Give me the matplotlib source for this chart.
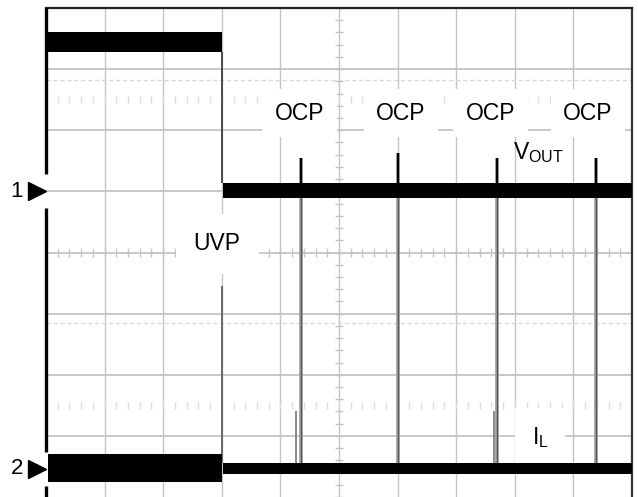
import matplotlib
matplotlib.use("Agg")
import matplotlib.pyplot as plt
import numpy as np

plt.rcParams['font.family'] = ['Liberation Sans', 'DejaVu Sans']
plt.rcParams['mathtext.fontset'] = 'custom'
plt.rcParams['mathtext.rm'] = 'Liberation Sans'

# scope screen, in divisions
n_xdiv = 10
n_ydiv = 8

# channel 1 (VOUT) trace band, before / after the UVP event
vout_x_before = [0.03, 3.0]
vout_lo_before = [7.28, 7.28]
vout_hi_before = [7.61, 7.61]
vout_x_after = [3.02, 10.0]
vout_lo_after = [4.89, 4.89]
vout_hi_after = [5.13, 5.13]

# channel 2 (IL) trace band
il_x_before = [0.03, 3.0]
il_lo_before = [0.24, 0.24]
il_hi_before = [0.70, 0.70]
il_x_after = [3.02, 10.0]
il_lo_after = [0.38, 0.38]
il_hi_after = [0.56, 0.56]

# spikes
uvp_x = 3.0
uvp_peak = 3.45
ocp_x = [4.35, 6.01, 7.70, 9.39]
ocp_peak = [5.55, 5.62, 5.55, 5.55]
pre_spike_x = [4.27, 7.65]
pre_spike_peak = [1.40, 1.40]

ch1_level = 5.0
ch2_level = 0.46

ocp_label_x = [4.33, 6.06, 7.59, 9.25]
ocp_label_y = 6.28

fig = plt.figure(figsize=(6.38, 4.97), dpi=100)
ax = fig.add_axes([46 / 638, 0.0, 586 / 638, 489 / 497])
ax.set_xlim(0, n_xdiv)
ax.set_ylim(0, n_ydiv)
ax.set_xticks([])
ax.set_yticks([])

# graticule
grid_c = '#c4c4c4'
for i in range(1, n_xdiv):
    ax.axvline(i, color=grid_c, lw=1, zorder=1)
for j in range(1, n_ydiv):
    ax.axhline(j, color=grid_c, lw=1.3, zorder=1)
ax.axhline(6.82, color='#d8d8d8', lw=1, ls=(0, (3, 2)), zorder=1)
ax.axhline(2.84, color='#d8d8d8', lw=1, ls=(0, (3, 2)), zorder=1)

# minor ticks on the centre lines
minor = np.arange(0, n_xdiv + 0.01, 0.2)
ax.vlines(minor, 4 - 0.07, 4 + 0.07, color=grid_c, lw=1, zorder=1)
ax.vlines(minor, 6.5 - 0.06, 6.5 + 0.06, color='#dddddd', lw=1, zorder=1)
ax.vlines(minor, 1.5 - 0.06, 1.5 + 0.06, color='#dddddd', lw=1, zorder=1)
minor_y = np.arange(0, n_ydiv + 0.01, 0.2)
ax.hlines(minor_y, 5 - 0.06, 5 + 0.06, color=grid_c, lw=1, zorder=1)

# channel 2 current spikes (grey)
ax.vlines(ocp_x, il_hi_after[0], ocp_peak, color='#999999', lw=2.6, zorder=4)
ax.vlines(ocp_x, il_hi_after[0], ocp_peak, color='#555555', lw=0.8, zorder=4)
ax.vlines(pre_spike_x, il_hi_after[0], pre_spike_peak, color='#777777', lw=1.2, zorder=4)
ax.vlines(uvp_x, il_hi_after[0], uvp_peak, color='#555555', lw=1.2, zorder=4)

# channel 1
ax.fill_between(vout_x_before, vout_lo_before, vout_hi_before, color='black', lw=0, zorder=5)
ax.fill_between(vout_x_after, vout_lo_after, vout_hi_after, color='black', lw=0, zorder=5)
ax.vlines(uvp_x, vout_hi_after[0], vout_lo_before[0], color='#333333', lw=1.2, zorder=5)
ax.vlines(ocp_x, vout_hi_after[0], ocp_peak, color='black', lw=1.6, zorder=5)

# channel 2
ax.fill_between(il_x_before, il_lo_before, il_hi_before, color='black', lw=0, zorder=5)
ax.fill_between(il_x_after, il_lo_after, il_hi_after, color='black', lw=0, zorder=5)

# labels
for x in ocp_label_x:
    ax.text(x, ocp_label_y, 'OCP', fontsize=16.5, ha='center', va='center', zorder=3,
            bbox=dict(facecolor='white', edgecolor='none', pad=9))
ax.text(2.92, 4.14, 'UVP', fontsize=16.5, ha='center', va='center', zorder=3,
        bbox=dict(facecolor='white', edgecolor='none', pad=13))
ax.text(8.40, 5.64, r'V$_{\mathrm{OUT}}$', fontsize=16.5, ha='center', va='center', zorder=3)
ax.text(8.43, 0.98, r'I$_{\mathrm{L}}$', fontsize=16.5, ha='center', va='center', zorder=3,
        bbox=dict(facecolor='white', edgecolor='none', pad=12))

# frame
for s in ['bottom', 'left']:
    ax.spines[s].set_visible(False)
ax.spines['top'].set_linewidth(1.6)
ax.spines['top'].set_color('#222222')
ax.spines['right'].set_linewidth(1.6)
ax.spines['right'].set_color('#333333')

gap = 0.28
left_segs = [(ch1_level + gap, n_ydiv), (ch2_level + gap, ch1_level - gap), (0, ch2_level - gap)]
for lo, hi in left_segs:
    ax.plot([0, 0], [lo, hi], color='black', lw=2.4, clip_on=False, solid_capstyle='butt', zorder=6)

# channel markers
for lvl, name in [(ch1_level, '1'), (ch2_level, '2')]:
    ax.plot(-0.15, lvl, marker='>', markersize=12.5, color='black', clip_on=False, zorder=6)
    ax.text(-0.39, lvl, name, fontsize=16, ha='right', va='center')

fig.savefig('out.png', dpi=100)
